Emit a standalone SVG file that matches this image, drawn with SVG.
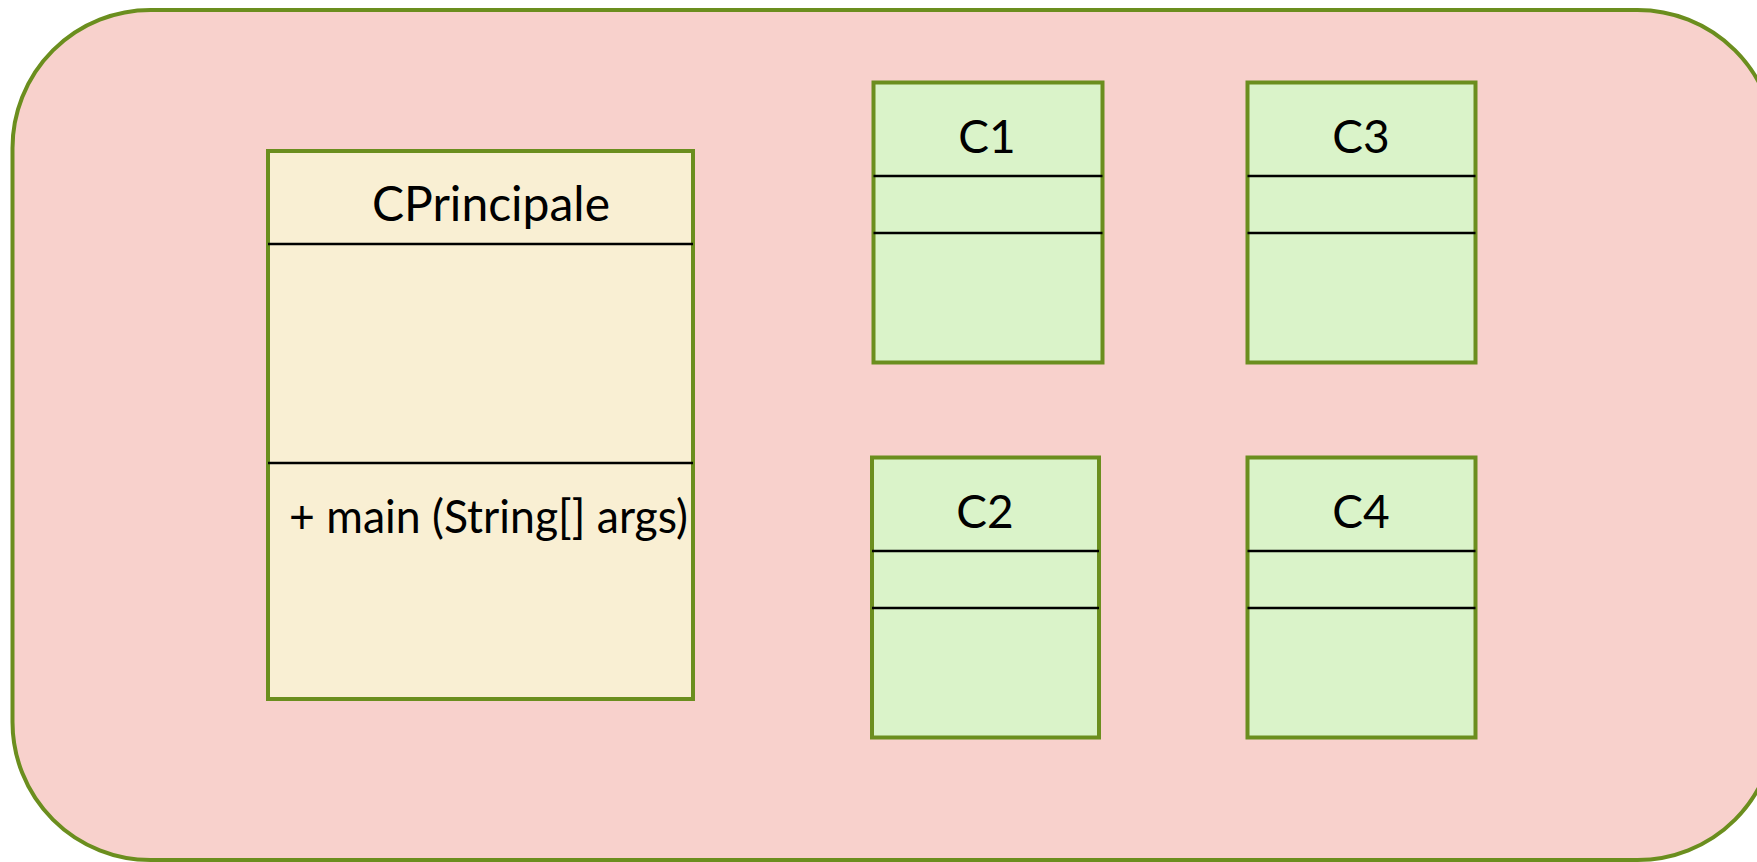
<svg xmlns="http://www.w3.org/2000/svg" width="1757" height="862" viewBox="0 0 1757 862">
<style>
.frame{fill:#f8d1cc;stroke:#6b8e1e;stroke-width:4}
.main{fill:#f9efd3;stroke:#6b8e1e;stroke-width:4}
.cls{fill:#daf3c9;stroke:#6b8e1e;stroke-width:4}
.div{stroke:#000;stroke-width:2.5}
text{font-family:Lato,"Open Sans",sans-serif;font-size:46px;fill:#000}
.c{text-anchor:middle}
</style>
<rect width="1757" height="862" fill="#ffffff"/>
<rect id="container" class="frame" x="12.5" y="10" width="1763" height="850" rx="138" ry="138"/>
<g id="CPrincipale">
<rect class="main" x="268" y="151" width="425" height="548"/>
<line class="div" x1="268" y1="244" x2="693" y2="244"/>
<line class="div" x1="268" y1="463" x2="693" y2="463"/>
<text class="c" x="491" y="221" style="font-size:48px">CPrincipale</text>
<text x="289" y="533" textLength="399" lengthAdjust="spacingAndGlyphs">+ main (String[] args)</text>
</g>
<g id="C1">
<rect class="cls" x="873.5" y="82.5" width="229" height="280"/>
<line class="div" x1="873.5" y1="176" x2="1102.5" y2="176"/>
<line class="div" x1="873.5" y1="233" x2="1102.5" y2="233"/>
<text class="c" x="987" y="153">C1</text>
</g>
<g id="C3">
<rect class="cls" x="1247.5" y="82.5" width="228" height="280"/>
<line class="div" x1="1247.5" y1="176" x2="1475.5" y2="176"/>
<line class="div" x1="1247.5" y1="233" x2="1475.5" y2="233"/>
<text class="c" x="1361" y="153">C3</text>
</g>
<g id="C2">
<rect class="cls" x="872" y="457.5" width="227" height="280"/>
<line class="div" x1="872" y1="551" x2="1099" y2="551"/>
<line class="div" x1="872" y1="608" x2="1099" y2="608"/>
<text class="c" x="985" y="528">C2</text>
</g>
<g id="C4">
<rect class="cls" x="1247.5" y="457.5" width="228" height="280"/>
<line class="div" x1="1247.5" y1="551" x2="1475.5" y2="551"/>
<line class="div" x1="1247.5" y1="608" x2="1475.5" y2="608"/>
<text class="c" x="1361" y="528">C4</text>
</g>
<g id="connectors"></g>
</svg>
